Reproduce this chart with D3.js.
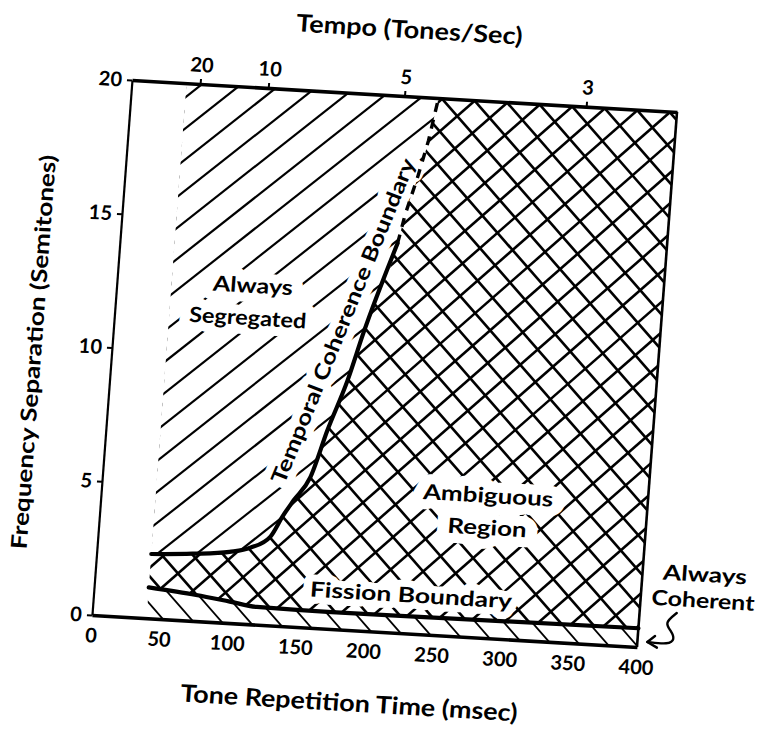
<!DOCTYPE html>
<html>
<head>
<meta charset="utf-8">
<script src="https://cdn.jsdelivr.net/npm/d3@7"></script>
<style>
  html, body { margin: 0; padding: 0; background: #fff; }
  svg { display: block; }
  text { font-family: Lato, "DejaVu Sans", sans-serif; font-weight: 700; }
</style>
</head>
<body>
<svg id="chart" width="759" height="731"></svg>
<script>
// Streaming of alternating tones: tone repetition time (ms) vs. frequency separation (semitones)
const coherenceMs       = [40, 70, 97, 112, 126, 134, 141, 152, 162, 174, 183, 203];
const coherenceSemi     = [2.4, 2.5, 2.65, 2.85, 3.3, 4.1, 4.7, 5.6, 7.4, 9.3, 11.1, 14.5];
const coherenceDashMs   = [203, 207, 214, 220, 225];
const coherenceDashSemi = [14.5, 15.6, 17.0, 18.4, 20];
const fissionMs         = [40, 75, 100, 120, 175, 250, 400];
const fissionSemi       = [1.15, 0.97, 0.8, 0.66, 0.63, 0.65, 0.7];

const timeTicks  = [0, 50, 100, 150, 200, 250, 300, 350, 400];
const semiTicks  = [0, 5, 10, 15, 20];
const tempoTicks = [20, 10, 5, 3];   // tones per second

const W = 545, H = 535;
const x = d3.scaleLinear().domain([0, 400]).range([0, W]);
const y = d3.scaleLinear().domain([0, 20]).range([H, 0]);

const svg = d3.select("#chart");
svg.append("rect").attr("width", 759).attr("height", 731).attr("fill", "#fff");
const defs = svg.append("defs");

// the whole figure sits slightly tilted on the page
const g = svg.append("g").attr("transform", "matrix(1,0.0587,-0.0748,1,132,80)");

const regions = g.append("g");
const halos   = g.append("g");
const lines   = g.append("g");
const axes    = g.append("g");
const labels  = g.append("g");

const pts = (ms, st) => ms.map((m, i) => [m, st[i]]);
const tcbPts  = pts(coherenceMs, coherenceSemi);
const dashPts = pts(coherenceDashMs, coherenceDashSemi);
const fisPts  = pts(fissionMs, fissionSemi);
const segPts  = tcbPts.concat(dashPts.slice(1));

// parallel hatch lines clipped to a region; angle in degrees (clockwise from +x),
// one line of each family passes through the anchor point
function hatch(id, regionPath, angles, spacing, width, anchor) {
  defs.append("clipPath").attr("id", id).append("path").attr("d", regionPath);
  const gh = regions.append("g").attr("clip-path", `url(#${id})`);
  angles.forEach(a => {
    const t = a * Math.PI / 180;
    const d = [Math.cos(t), Math.sin(t)], n = [-Math.sin(t), Math.cos(t)];
    const segs = d3.range(-70, 71).map(k => {
      const cx = anchor[0] + n[0] * k * spacing, cy = anchor[1] + n[1] * k * spacing;
      return [cx - d[0] * 1000, cy - d[1] * 1000, cx + d[0] * 1000, cy + d[1] * 1000];
    });
    gh.append("g").selectAll("line").data(segs).join("line")
      .attr("x1", s => s[0]).attr("y1", s => s[1])
      .attr("x2", s => s[2]).attr("y2", s => s[3])
      .attr("stroke", "#000").attr("stroke-width", width);
  });
}

// ambiguous region: above the fission boundary (the segregated region is carved out below)
const ambArea = d3.area().x(d => x(d[0])).y0(d => y(d[1])).y1(y(20)).curve(d3.curveMonotoneX)(fisPts);
const segArea = d3.area().x(d => x(d[0])).y0(y(20)).y1(d => y(d[1])).curve(d3.curveMonotoneX)(segPts);
const cohArea = d3.area().x(d => x(d[0])).y0(y(0)).y1(d => y(d[1])).curve(d3.curveMonotoneX)(fisPts);

hatch("clipAmb", ambArea, [45, -45], 23, 2.6, [359, 82]);
regions.append("path").attr("d", segArea).attr("fill", "#fff");
hatch("clipSeg", segArea, [-42], 24.5, 2.2, [x(40), 80]);
hatch("clipCoh", cohArea, [45], 21, 1.8, [71, H]);

// boundaries
const curve = d3.line().x(d => x(d[0])).y(d => y(d[1])).curve(d3.curveMonotoneX);
lines.append("path").attr("d", curve(tcbPts))
  .attr("fill", "none").attr("stroke", "#000").attr("stroke-width", 4.2).attr("stroke-linecap", "round");
lines.append("path").attr("d", d3.line().x(d => x(d[0])).y(d => y(d[1]))(dashPts))
  .attr("fill", "none").attr("stroke", "#000").attr("stroke-width", 3.4).attr("stroke-dasharray", "9,8");
lines.append("path").attr("d", curve(fisPts))
  .attr("fill", "none").attr("stroke", "#000").attr("stroke-width", 4.2).attr("stroke-linecap", "round");

// axes
function styleAxis(sel, domainWidth, fontSize) {
  sel.attr("font-family", null).attr("font-size", null);
  sel.select(".domain").attr("stroke", "#000").attr("stroke-width", domainWidth);
  sel.selectAll(".tick line").attr("stroke", "#000").attr("stroke-width", 2);
  sel.selectAll(".tick text").attr("fill", "#000").style("font-size", fontSize + "px");
}

axes.append("g")
  .attr("transform", `translate(0,${H})`)
  .call(d3.axisBottom(x).tickValues(timeTicks).tickSize(0).tickPadding(13))
  .call(s => styleAxis(s, 3.6, 20));

axes.append("g")
  .call(d3.axisLeft(y).tickValues(semiTicks).tickSize(5).tickSizeOuter(0).tickPadding(5))
  .call(s => styleAxis(s, 2.2, 20));

axes.append("g")
  .call(d3.axisTop(x).tickValues(tempoTicks.map(t => 1000 / t))
    .tickFormat((d, i) => tempoTicks[i]).tickSize(5).tickSizeOuter(0).tickPadding(7))
  .call(s => styleAxis(s, 3.6, 20));

axes.append("line")
  .attr("x1", x(400)).attr("x2", x(400)).attr("y1", y(0)).attr("y2", y(20))
  .attr("stroke", "#000").attr("stroke-width", 2.6);

// axis titles
labels.append("text")
  .attr("x", W / 2).attr("y", -58)
  .attr("text-anchor", "middle").style("font-size", "24px")
  .attr("textLength", 226).attr("lengthAdjust", "spacingAndGlyphs")
  .text("Tempo (Tones/Sec)");

labels.append("text")
  .attr("x", W / 2 - 10).attr("y", H + 81)
  .attr("text-anchor", "middle").style("font-size", "24px")
  .attr("textLength", 337).attr("lengthAdjust", "spacingAndGlyphs")
  .text("Tone Repetition Time (msec)");

labels.append("text")
  .attr("transform", `translate(-70,${H / 2 + 9}) rotate(-90)`)
  .attr("text-anchor", "middle").style("font-size", "22px")
  .attr("textLength", 394).attr("lengthAdjust", "spacingAndGlyphs")
  .text("Frequency Separation (Semitones)");

// region labels, each with a white clearing in the hatching
function regionLabel(txt, ms, semi, size, len, angle, halo) {
  const tf = `translate(${x(ms)},${y(semi)}) rotate(${angle || 0})`;
  if (halo) {
    halos.append("text")
      .attr("transform", tf).attr("text-anchor", "middle")
      .style("font-size", size + "px")
      .attr("textLength", len).attr("lengthAdjust", "spacingAndGlyphs")
      .attr("fill", "#fff").attr("stroke", "#fff")
      .attr("stroke-width", halo).attr("stroke-linejoin", "round")
      .text(txt);
  }
  labels.append("text")
    .attr("transform", tf).attr("text-anchor", "middle")
    .style("font-size", size + "px")
    .attr("textLength", len).attr("lengthAdjust", "spacingAndGlyphs")
    .attr("fill", "#000")
    .text(txt);
}

regionLabel("Always", 99.6, 12.34, 21, 80, 0, 18);
regionLabel("Segregated", 97.6, 11.13, 21, 117, 0, 18);
regionLabel("Temporal Coherence Boundary", 172.6, 11.41, 21, 346, -72, 16);
regionLabel("Ambiguous", 283, 5.04, 21, 130, 0, 20);
regionLabel("Region", 283.9, 3.84, 21, 79, 0, 20);
regionLabel("Fission Boundary", 232, 1.16, 21, 202, 0, 14);
regionLabel("Always", 445.7, 2.57, 21, 84, 0, 0);
regionLabel("Coherent", 445.7, 1.6, 21, 103, 0, 0);

// curly pointer to the always-coherent band
const squiggle = [[427.2, 1.35], [418.5, 0.95], [424.5, 0.66], [427.2, 0.36], [423.0, 0.16], [407.3, 0.21]];
labels.append("path")
  .attr("d", d3.line().x(d => x(d[0])).y(d => y(d[1])).curve(d3.curveBasis)(squiggle))
  .attr("fill", "none").attr("stroke", "#000").attr("stroke-width", 2.4).attr("stroke-linecap", "round");
const head = [[412.6, 0.45], [407.3, 0.21], [414.6, 0.02]];
labels.append("path")
  .attr("d", d3.line().x(d => x(d[0])).y(d => y(d[1]))(head))
  .attr("fill", "none").attr("stroke", "#000").attr("stroke-width", 2.4)
  .attr("stroke-linecap", "round").attr("stroke-linejoin", "round");
</script>
</body>
</html>
